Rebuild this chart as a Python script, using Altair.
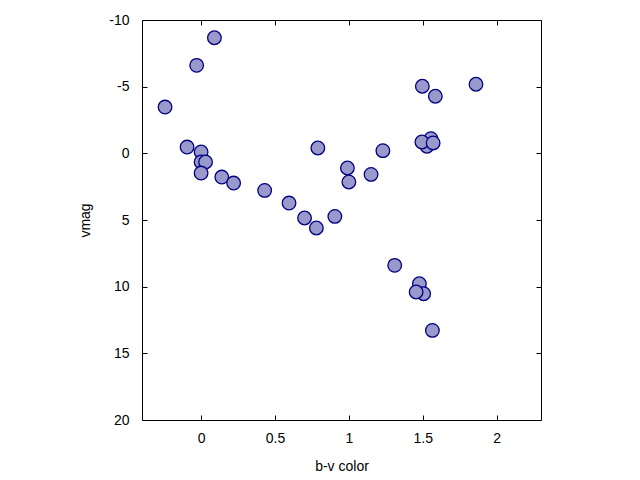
import altair as alt
import pandas as pd

bv = [0.09, -0.03, -0.244, -0.095, 0.0, 0.79, 0.0, 0.03, 0.0, 0.14, 0.22, 0.43,
      0.595, 0.70, 0.78, 0.905, 0.99, 1.0, 1.15, 1.23, 1.497, 1.585, 1.86,
      1.528, 1.555, 1.494, 1.57, 1.31, 1.477, 1.506, 1.455, 1.565]
vmag = [-8.67, -6.6, -3.47, -0.47, -0.1, -0.4, 0.65, 0.65, 1.48, 1.78, 2.23, 2.78,
        3.73, 4.85, 5.6, 4.73, 1.1, 2.15, 1.58, -0.2, -5.03, -4.28, -5.18,
        -0.53, -1.1, -0.85, -0.78, 8.4, 9.78, 10.53, 10.4, 13.28]

x_ticks = [0, 0.5, 1, 1.5, 2]
y_ticks = [-10, -5, 0, 5, 10, 15, 20]

df = pd.DataFrame({"bv": bv, "vmag": vmag})

FONT = "Liberation Sans"

xscale = alt.Scale(domain=[-0.4, 2.3], nice=False, zero=False)
yscale = alt.Scale(domain=[-10, 20], reverse=True, nice=False, zero=False)

common_axis = dict(
    domain=False, grid=False, tickSize=5, tickColor="black", tickWidth=1,
    offset=-5, labelFont=FONT, labelFontSize=14, labelColor="black",
    titleFont=FONT, titleFontSize=14, titleColor="black", titleFontWeight="normal",
    labelExpr="'' + datum.value",
)

points = alt.Chart(df).mark_circle(
    size=185, fill="#9999CC", stroke="#000080", strokeWidth=1.3, opacity=1
).encode(
    x=alt.X("bv:Q", scale=xscale,
            axis=alt.Axis(orient="bottom", values=x_ticks, title="b-v color",
                          labelPadding=11, titlePadding=14, **common_axis)),
    y=alt.Y("vmag:Q", scale=yscale,
            axis=alt.Axis(orient="left", values=y_ticks, title="vmag",
                          labelPadding=13, titlePadding=16, **common_axis)),
)

mirror = alt.Chart(df).mark_circle(opacity=0).encode(
    x=alt.X("bv:Q", scale=xscale,
            axis=alt.Axis(orient="top", values=x_ticks, title=None, labels=False,
                          domain=False, grid=False, tickSize=5, tickColor="black",
                          tickWidth=1, offset=-5)),
    y=alt.Y("vmag:Q", scale=yscale,
            axis=alt.Axis(orient="right", values=y_ticks, title=None, labels=False,
                          domain=False, grid=False, tickSize=5, tickColor="black",
                          tickWidth=1, offset=-5)),
)

chart = alt.layer(points, mirror).resolve_axis(x="independent", y="independent").properties(
    width=399, height=400,
    background="white",
    autosize=alt.AutoSizeParams(type="none"),
    padding={"left": 134, "top": 12, "right": 80, "bottom": 56},
).configure_view(stroke="black", strokeWidth=1)

chart.save("out.html", embed_options={"renderer": "svg", "actions": False})
